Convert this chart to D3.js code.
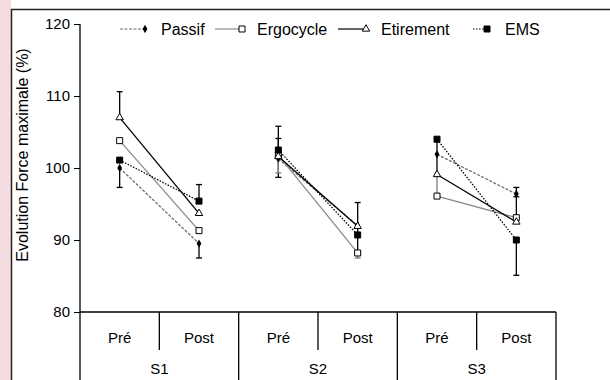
<!DOCTYPE html>
<html>
<head>
<meta charset="utf-8">
<script src="https://cdn.jsdelivr.net/npm/d3@7"></script>
<style>
  body { margin: 0; background: #fff; }
  svg { display: block; font-family: "Liberation Sans", Arial, sans-serif; }
</style>
</head>
<body>
<div id="chart"></div>
<script>
// Data
const sessions = ["S1", "S2", "S3"];
const phases = ["Pré", "Post"];
const yTicks = [80, 90, 100, 110, 120];

const passif    = [100.0, 89.5, 101.3, 92.0, 101.9, 96.4];
const ergocycle = [103.8, 91.3, 101.8, 88.2, 96.1, 93.1];
const etirement = [107.0, 93.7, 101.6, 91.9, 99.1, 92.5];
const ems       = [101.1, 95.4, 102.5, 90.7, 104.0, 90.0];

// error bars: positive = drawn upward, negative = downward, 0 = none
const passifSd    = [-2.7, -2.0, -2.6, -3.7, 0, 0.9];
const ergocycleSd = [0, 0, -2.5, -0.7, 3.0, 0];
const etirementSd = [3.6, 0, 4.2, 3.3, 0, 3.5];
const emsSd       = [0, 2.3, 1.6, 0, -5.0, -4.9];

const width = 610, height = 380;
const plot = { left: 80, right: 556, top: 24, bottom: 312 };

const svg = d3.select("#chart").append("svg")
    .attr("width", width)
    .attr("height", height);

// pinkish strip + frame on the left/top (scan background)
svg.append("rect").attr("x", 0).attr("y", 0).attr("width", 11).attr("height", height)
    .attr("fill", "#f4dde0");
svg.append("path")
    .attr("d", `M11.5,${height} V9.5 H${width}`)
    .attr("fill", "none").attr("stroke", "#222").attr("stroke-width", 1.5);

// Scales
const cells = [];
sessions.forEach(s => phases.forEach(p => cells.push(s + "-" + p)));

const x = d3.scaleBand().domain(cells).range([plot.left, plot.right]);
const xs = d3.scaleBand().domain(sessions).range([plot.left, plot.right]);
const y = d3.scaleLinear().domain([80, 120]).range([plot.bottom, plot.top]);

// Y axis
const yAxis = svg.append("g")
    .attr("transform", `translate(${plot.left},0)`)
    .call(d3.axisLeft(y).tickValues(yTicks).tickSize(6).tickSizeOuter(0));
yAxis.select(".domain").remove();
yAxis.selectAll("line").attr("stroke", "#000");
yAxis.selectAll("text").attr("font-size", 15).attr("fill", "#000")
    .attr("font-family", "Liberation Sans, Arial, sans-serif").attr("x", -10);

svg.append("line")
    .attr("x1", plot.left).attr("x2", plot.left)
    .attr("y1", y(120)).attr("y2", height)
    .attr("stroke", "#000").attr("stroke-width", 1.3);

svg.append("text")
    .attr("transform", `translate(28,155) rotate(-90)`)
    .attr("text-anchor", "middle")
    .attr("font-size", 16)
    .text("Evolution Force maximale (%)");

// Bottom table (categories)
svg.append("line")
    .attr("x1", plot.left).attr("x2", plot.right)
    .attr("y1", plot.bottom).attr("y2", plot.bottom)
    .attr("stroke", "#000").attr("stroke-width", 1.3);

sessions.forEach(s => {
    const x0 = xs(s) + xs.bandwidth();
    svg.append("line")
        .attr("x1", x0).attr("x2", x0).attr("y1", plot.bottom).attr("y2", height)
        .attr("stroke", "#000").attr("stroke-width", 1.3);
    const mid = x(s + "-Post");
    svg.append("line")
        .attr("x1", mid).attr("x2", mid).attr("y1", plot.bottom).attr("y2", 350)
        .attr("stroke", "#000").attr("stroke-width", 1.3);
    svg.append("text")
        .attr("x", xs(s) + xs.bandwidth() / 2).attr("y", 374)
        .attr("text-anchor", "middle").attr("font-size", 15)
        .text(s);
});

cells.forEach(c => {
    svg.append("text")
        .attr("x", x(c) + x.bandwidth() / 2).attr("y", 343)
        .attr("text-anchor", "middle").attr("font-size", 15)
        .text(c.split("-")[1]);
});

// Series
const series = [
    { name: "Passif", values: passif, sd: passifSd, stroke: "#6e6e6e", dash: "3,1.5", marker: "diamond", fill: "#000" },
    { name: "Ergocycle", values: ergocycle, sd: ergocycleSd, stroke: "#8a8a8a", dash: null, marker: "square", fill: "#fff" },
    { name: "Etirement", values: etirement, sd: etirementSd, stroke: "#000", dash: null, marker: "triangle", fill: "#fff" },
    { name: "EMS", values: ems, sd: emsSd, stroke: "#000", dash: "1.5,1.5", marker: "square", fill: "#000" }
];

const symbolType = { diamond: d3.symbolDiamond, square: d3.symbolSquare, triangle: d3.symbolTriangle };
const symbolSize = { diamond: 20, square: 36, triangle: 24 };

function cx(i) {
    return x(cells[i]) + x.bandwidth() / 2;
}

function drawMarker(g, s, px, py) {
    g.append("path")
        .attr("d", d3.symbol().type(symbolType[s.marker]).size(symbolSize[s.marker])())
        .attr("transform", `translate(${px},${py})`)
        .attr("fill", s.fill)
        .attr("stroke", s.marker === "diamond" ? "none" : "#000")
        .attr("stroke-width", 1);
}

// error bars first
series.forEach(s => {
    s.values.forEach((v, i) => {
        const e = s.sd[i];
        if (!e) return;
        const px = cx(i);
        const col = s.name === "Ergocycle" ? "#7a7a7a" : "#000";
        svg.append("line")
            .attr("x1", px).attr("x2", px)
            .attr("y1", y(v)).attr("y2", y(v + e))
            .attr("stroke", col).attr("stroke-width", 1.3);
        svg.append("line")
            .attr("x1", px - 3).attr("x2", px + 3)
            .attr("y1", y(v + e)).attr("y2", y(v + e))
            .attr("stroke", col).attr("stroke-width", 1.3);
    });
});

// lines Pré -> Post per session
const line = d3.line().x(d => d.x).y(d => d.y);
series.forEach(s => {
    sessions.forEach((sess, k) => {
        const pts = [2 * k, 2 * k + 1].map(i => ({ x: cx(i), y: y(s.values[i]) }));
        svg.append("path")
            .attr("d", line(pts))
            .attr("fill", "none")
            .attr("stroke", s.stroke)
            .attr("stroke-width", 1.3)
            .attr("stroke-dasharray", s.dash);
    });
});

series.forEach(s => {
    const g = svg.append("g");
    s.values.forEach((v, i) => drawMarker(g, s, cx(i), y(v)));
});

// Legend
const legendPos = [
    { x1: 120, x2: 145, tx: 161 },
    { x1: 215, x2: 242, tx: 257 },
    { x1: 338, x2: 366, tx: 381 },
    { x1: 473, x2: 487, tx: 505 }
];
const legendY = 29;
series.forEach((s, i) => {
    const p = legendPos[i];
    svg.append("line")
        .attr("x1", p.x1).attr("x2", p.x2)
        .attr("y1", legendY).attr("y2", legendY)
        .attr("stroke", s.stroke).attr("stroke-width", 1.2)
        .attr("stroke-dasharray", s.dash);
    const g = svg.append("g");
    drawMarker(g, s, p.x2, legendY);
    svg.append("text")
        .attr("x", p.tx).attr("y", legendY + 5.5)
        .attr("font-size", 16)
        .text(s.name);
});
</script>
</body>
</html>
